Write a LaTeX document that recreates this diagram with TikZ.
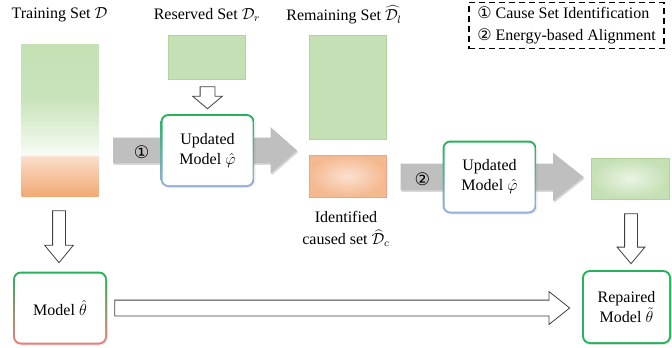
\documentclass[tikz,border=0pt]{standalone}
\usepackage{fontspec}
\setmainfont{Liberation Serif}
\newfontfamily\circfont{DejaVu Sans}
\usetikzlibrary{positioning,calc,shapes.arrows,shadows}

\newlength\pxu
\setlength\pxu{0.75pt}

\definecolor{setgreen}{RGB}{197,224,180}
\definecolor{setgreenline}{RGB}{178,211,158}
\definecolor{setorange}{RGB}{244,177,131}
\definecolor{lightorange}{RGB}{250,224,208}
\definecolor{orangeline}{RGB}{246,160,140}
\definecolor{framegreen}{RGB}{36,178,90}
\definecolor{frameblue}{RGB}{150,175,222}
\definecolor{framered}{RGB}{236,125,125}
\definecolor{arrowgray}{RGB}{191,191,191}

% training set: green on top, fading out, orange part below
\pgfdeclareverticalshading{trainshade}{100bp}{%
  rgb(0bp)=(0.95,0.66,0.46); rgb(25bp)=(0.95,0.66,0.46);
  rgb(38bp)=(0.98,0.87,0.79); rgb(38.6bp)=(0.98,0.99,0.97);
  rgb(42bp)=(0.93,0.97,0.91); rgb(57bp)=(0.79,0.89,0.73);
  rgb(75bp)=(0.77,0.88,0.71); rgb(100bp)=(0.77,0.88,0.71)}

\begin{document}
\begin{tikzpicture}[
    x=0.75pt, y=-0.75pt,
    font=\fontsize{12}{15}\selectfont,
    txt/.style={inner sep=0pt, align=center},
    setbox/.style={minimum width=77\pxu, inner sep=0pt},
    greenset/.style={setbox, fill=setgreen, draw=setgreenline, line width=0.6\pxu},
    model/.style={rounded corners=8\pxu, minimum width=94\pxu,
        minimum height=73\pxu, inner sep=0pt, align=center,
        drop shadow={opacity=0.15, shadow xshift=1\pxu, shadow yshift=-1.2\pxu},
        path picture={\fill[white, rounded corners=6\pxu]
          ([shift={(2\pxu,2\pxu)}]path picture bounding box.south west) rectangle
          ([shift={(-2\pxu,-2\pxu)}]path picture bounding box.north east);}},
    grayarrow/.style={single arrow, fill=arrowgray, inner xsep=0pt, anchor=tail,
        drop shadow={opacity=0.3, shadow xshift=1.2\pxu, shadow yshift=-1.5\pxu}},
    hollow/.style={single arrow, draw=black!75, fill=white, anchor=tail,
        line width=0.8\pxu, inner xsep=0pt},
    num/.style={font=\circfont\fontsize{13}{13}\selectfont, inner sep=0pt}
  ]
  \useasboundingbox (0,0) rectangle (672,347);

  % data sets
  \node[txt] (trainlbl) at (59.5,15) {Training Set $\mathcal{D}$};
  \node[setbox, minimum height=152\pxu, shade, shading=trainshade] (train) at (60,120) {};
  \node[txt] (reslbl) at (207,15) {Reserved Set $\mathcal{D}_r$};
  \node[greenset, minimum height=44\pxu] (reserved) at (207,57) {};
  \node[txt] (remlbl) at (344,15) {Remaining Set $\widehat{\mathcal{D}_l}$};
  \node[greenset, minimum height=104\pxu] (remain) at (347.5,87) {};
  \node[setbox, minimum height=42\pxu, inner color=lightorange,
        outer color=setorange!90, draw=orangeline, line width=0.6\pxu] (caused) at (347.5,176) {};
  \node[txt] (causedlbl) at (346,229) {Identified\\[1.5pt]caused set $\widehat{\mathcal{D}}_c$};
  \node[setbox, minimum width=78\pxu, minimum height=41\pxu, inner color=setgreen!35,
        outer color=setgreen, draw=setgreenline, line width=0.6\pxu] (aligned) at (630,178.5) {};

  % the two steps
  \node[grayarrow, minimum height=184\pxu, inner ysep=12.5\pxu,
        single arrow head extend=10.5\pxu, single arrow tip angle=83]
        (flow1) at ($(train.east)+(14,30.5)$) {};
  \node[grayarrow, minimum height=183\pxu, inner ysep=13\pxu,
        single arrow head extend=11\pxu, single arrow tip angle=77]
        (flow2) at ($(caused.east)+(14,1)$) {};
  \node[num] (num1) at ($(flow1.tail)+(29,2)$) {①};
  \node[num] (num2) at ($(flow2.tail)+(22,2)$) {②};

  % models
  \node[model, top color=framegreen, bottom color=frameblue] (upd1) at (207.5,150.5) {Updated\\Model $\hat{\varphi}$};
  \node[model, top color=framegreen, bottom color=frameblue] (upd2) at (489.5,177) {Updated\\Model $\hat{\varphi}$};
  \node[model, top color=framegreen, middle color=frameblue, bottom color=framered] (model) at (60,308) {Model $\hat{\theta}$};
  \node[model, minimum width=89\pxu, minimum height=74\pxu, fill=framegreen] (repaired) at (626.5,307) {Repaired\\Model $\tilde{\theta}$};

  % hollow arrows
  \node[hollow, rotate=-90, minimum height=22\pxu, inner ysep=7\pxu,
        single arrow head extend=7.5\pxu, single arrow tip angle=100]
        (resdown) at ($(reserved.south)+(0.5,7)$) {};
  \node[hollow, rotate=-90, minimum height=52\pxu, inner ysep=6\pxu,
        single arrow head extend=8\pxu, single arrow tip angle=79]
        (traindown) at ($(train.south)+(-1,14)$) {};
  \node[hollow, rotate=-90, minimum height=50\pxu, inner ysep=6\pxu,
        single arrow head extend=7.5\pxu, single arrow tip angle=80]
        (aligndown) at ($(aligned.south)+(1,14)$) {};
  \node[hollow, minimum height=455\pxu, inner ysep=7.5\pxu,
        single arrow head extend=8.5\pxu, single arrow tip angle=77]
        (repair) at ($(model.east)+(7,0)$) {};

  % legend
  \node[draw, dashed, line width=1.5\pxu, dash pattern=on 6\pxu off 4\pxu,
        minimum width=195\pxu, minimum height=45\pxu, inner xsep=7\pxu, align=left]
        (legend) at (566.5,25.5)
        {{\circfont\fontsize{12}{12}\selectfont ①} Cause Set Identification\\[1.5pt]
         {\circfont\fontsize{12}{12}\selectfont ②} Energy-based Alignment};
\end{tikzpicture}
\end{document}
